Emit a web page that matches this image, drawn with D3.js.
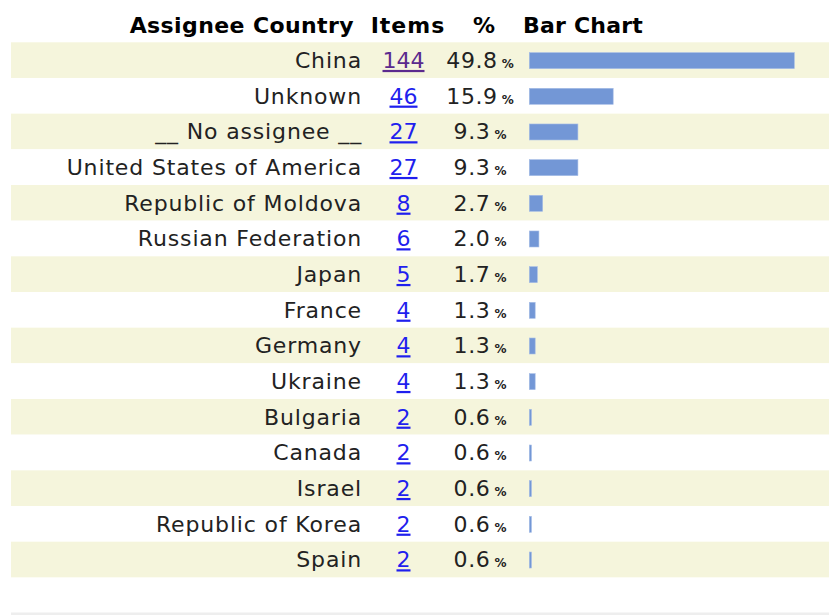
<!DOCTYPE html>
<html>
<head>
<meta charset="utf-8">
<script src="https://cdn.jsdelivr.net/npm/d3@7"></script>
<style>
  html, body { margin: 0; padding: 0; background: #fff; }
  svg { display: block; }
  text { font-family: "DejaVu Sans", Verdana, sans-serif; }
</style>
</head>
<body>
<script>
// ---- data ----
const headers = ["Assignee Country", "Items", "%", "Bar Chart"];
const countries = ["China", "Unknown", "__ No assignee __", "United States of America",
  "Republic of Moldova", "Russian Federation", "Japan", "France", "Germany", "Ukraine",
  "Bulgaria", "Canada", "Israel", "Republic of Korea", "Spain"];
const items = [144, 46, 27, 27, 8, 6, 5, 4, 4, 4, 2, 2, 2, 2, 2];
const percents = [49.8, 15.9, 9.3, 9.3, 2.7, 2.0, 1.7, 1.3, 1.3, 1.3, 0.6, 0.6, 0.6, 0.6, 0.6];

// ---- layout ----
const W = 829, H = 615;
const svg = d3.select("body").append("svg").attr("width", W).attr("height", H);

const y = d3.scaleBand().domain(countries).range([42.3, 42.3 + 15 * 35.67]).padding(0);
const x = d3.scaleLinear().domain([0.2, d3.max(percents)]).range([529.3, 794.3]);

const rows = countries.map((c, i) => ({ c, n: items[i], p: percents[i], i }));

// row bands
svg.selectAll("rect.band").data(rows).join("rect")
  .attr("class", "band")
  .attr("x", 11).attr("width", W - 11)
  .attr("y", d => y(d.c)).attr("height", y.bandwidth())
  .attr("fill", d => d.i % 2 === 0 ? "#f5f5dc" : "#ffffff");

// bottom rule
svg.append("rect").attr("x", 11).attr("y", 612.5).attr("width", W - 11).attr("height", 3).attr("fill", "#eeeeee");

// headers
const hy = 33;
const hdr = svg.append("g").attr("font-size", 22).attr("font-weight", "bold").attr("fill", "#000");
hdr.append("text").attr("x", 354).attr("y", hy).attr("text-anchor", "end").attr("letter-spacing", 0.4).text(headers[0]);
hdr.append("text").attr("x", 408).attr("y", hy).attr("text-anchor", "middle").attr("letter-spacing", 1).text(headers[1]);
hdr.append("text").attr("x", 484).attr("y", hy).attr("text-anchor", "middle").text(headers[2]);
hdr.append("text").attr("x", 523).attr("y", hy).attr("text-anchor", "start").attr("letter-spacing", 0.2).text(headers[3]);

const cy = d => y(d.c) + y.bandwidth() / 2;

// country names
svg.selectAll("text.country").data(rows).join("text")
  .attr("class", "country")
  .attr("x", 362).attr("y", d => cy(d) + 7.8)
  .attr("text-anchor", "end")
  .attr("font-size", 22).attr("letter-spacing", 0.85)
  .attr("fill", "#222")
  .text(d => d.c);

// item counts (links)
svg.selectAll("text.items").data(rows).join("text")
  .attr("class", "items")
  .attr("x", 403.5).attr("y", d => cy(d) + 7.8)
  .attr("text-anchor", "middle")
  .attr("font-size", 22)
  .attr("fill", d => d.i === 0 ? "#5b2a8e" : "#1f1fee")
  .style("text-decoration", "underline")
  .text(d => d.n);

// percentages
const pt = svg.selectAll("text.pct").data(rows).join("text")
  .attr("class", "pct")
  .attr("x", 480).attr("y", d => cy(d) + 7.8)
  .attr("text-anchor", "middle")
  .attr("fill", "#222");
pt.append("tspan").attr("font-size", 22).attr("letter-spacing", 0.6).text(d => d.p.toFixed(1));
pt.append("tspan").attr("font-size", 12).attr("font-weight", "bold").attr("dx", 4).text("%");

// bars
svg.selectAll("rect.bar").data(rows).join("rect")
  .attr("class", "bar")
  .attr("x", x(0.2))
  .attr("y", d => cy(d) - 7.5)
  .attr("width", d => x(d.p) - x(0.2))
  .attr("height", 16)
  .attr("fill", "#7397d6")
  .attr("stroke", "#a6bde6")
  .attr("stroke-width", 0.6);
</script>
</body>
</html>
